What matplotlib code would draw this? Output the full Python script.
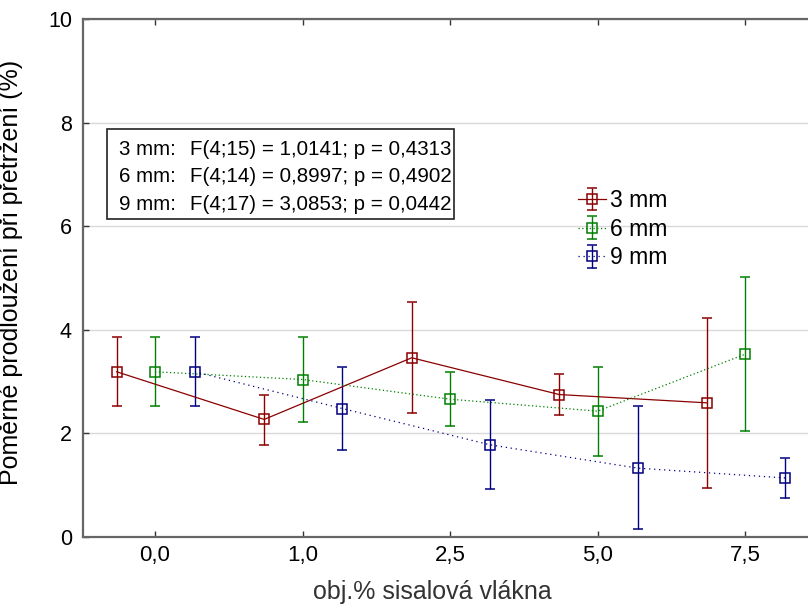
import matplotlib
matplotlib.use("Agg")
import matplotlib.pyplot as plt
from matplotlib.patches import Rectangle

plt.rcParams['font.family'] = ['Liberation Sans', 'DejaVu Sans']

# categories on the x axis (obj.% sisal fibres)
categories = ["0,0", "1,0", "2,5", "5,0", "7,5"]
series_names = ["3 mm", "6 mm", "9 mm"]

# means and confidence limits
mean_3mm = [3.19, 2.27, 3.46, 2.75, 2.59]
low_3mm = [2.52, 1.78, 2.39, 2.36, 0.94]
high_3mm = [3.86, 2.75, 4.54, 3.15, 4.23]

mean_6mm = [3.19, 3.04, 2.66, 2.43, 3.53]
low_6mm = [2.52, 2.22, 2.14, 1.57, 2.04]
high_6mm = [3.86, 3.86, 3.19, 3.29, 5.02]

mean_9mm = [3.19, 2.48, 1.78, 1.33, 1.14]
low_9mm = [2.52, 1.68, 0.92, 0.15, 0.76]
high_9mm = [3.86, 3.28, 2.64, 2.52, 1.52]

stats_labels = ["3 mm:", "6 mm:", "9 mm:"]
stats_text = ["F(4;15) = 1,0141; p = 0,4313",
              "F(4;14) = 0,8997; p = 0,4902",
              "F(4;17) = 3,0853; p = 0,0442"]

colors = ["#8b0000", "#008000", "#000080"]
styles = ["-", (0, (1, 2)), (0, (1, 3))]
offsets = [-0.26, 0.0, 0.27]

fig = plt.figure(figsize=(8.08, 6.05), dpi=100)
ax = fig.add_axes([83 / 808, 68 / 605, 736 / 808, 518 / 605])

series = [(mean_3mm, low_3mm, high_3mm),
          (mean_6mm, low_6mm, high_6mm),
          (mean_9mm, low_9mm, high_9mm)]

for (m, lo, hi), name, c, ls, off in zip(series, series_names, colors, styles, offsets):
    xs = [i + off for i in range(len(categories))]
    err = [[mi - l for mi, l in zip(m, lo)], [h - mi for mi, h in zip(m, hi)]]
    ax.errorbar(xs, m, yerr=err, color=c, ls=ls, lw=0.9, marker="s", ms=6.6,
                mfc="none", mec=c, mew=1.1, elinewidth=1.0, capsize=3.5,
                capthick=1.0, label=name)

ax.set_xlim(-0.488, 4.5)
ax.set_ylim(0, 10)
ax.set_xticks(range(len(categories)))
ax.set_xticklabels(categories)
ax.set_yticks([0, 2, 4, 6, 8, 10])
ax.tick_params(axis="x", direction="in", top=True, length=4, width=1, labelsize=16, pad=6, color="#333333")
ax.tick_params(axis="y", direction="in", length=4, width=1, labelsize=15.5, pad=8, color="#333333")
ax.yaxis.grid(True, color="#d9d9d9", lw=1)
ax.set_axisbelow(True)

for side in ["left", "bottom", "top"]:
    ax.spines[side].set_color("#666666")
    ax.spines[side].set_linewidth(1.6)
ax.spines["right"].set_visible(False)

ax.set_ylabel("Poměrné prodloužení při přetržení (%)", fontsize=18)
ax.yaxis.set_label_coords(-(83 - 23) / 736, (537 - 272) / 518)

# x label sits low, almost on the bottom edge
fig.text(432 / 808, 1 - 599 / 605, "obj.% sisalová vlákna", fontsize=18,
         color="#333333", ha="center", va="baseline")

# statistics box
fig.add_artist(Rectangle((107 / 808, 1 - 219 / 605), 347 / 808, 90 / 605,
                         transform=fig.transFigure, fill=True, fc="white",
                         ec="#222222", lw=1.2, zorder=5))
for i, (lab, txt) in enumerate(zip(stats_labels, stats_text)):
    yb = 1 - (155 + i * 27.5) / 605
    fig.text(119 / 808, yb, lab, fontsize=14.8, va="baseline", zorder=6)
    fig.text(190 / 808, yb, txt, fontsize=14.8, va="baseline", zorder=6)

ax.legend(loc="upper left", bbox_to_anchor=(578 / 808, 1 - 189 / 605),
          bbox_transform=fig.transFigure, frameon=False, fontsize=16.5,
          handlelength=1.2, handletextpad=0.2, labelspacing=0.25,
          borderpad=0, borderaxespad=0)

fig.savefig("out.png", dpi=100)
